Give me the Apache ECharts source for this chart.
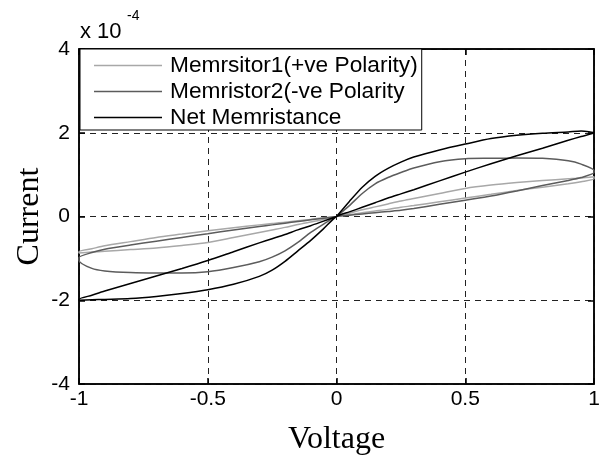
<!DOCTYPE html>
<html>
<head>
<meta charset="utf-8">
<script src="https://cdn.jsdelivr.net/npm/echarts@6/dist/echarts.min.js"></script>
<style>
  html, body { margin: 0; padding: 0; background: #fff; }
  #chart { width: 606px; height: 455px; }
</style>
</head>
<body>
<div id="chart"></div>
<script>
// Voltage magnitudes at which every branch of the I-V loops is sampled (V)
const vSteps = [0, 0.05, 0.1, 0.15, 0.2, 0.25, 0.3, 0.4, 0.5, 0.6, 0.7, 0.8, 0.9, 0.95, 1];

// Currents in units of 1e-4 A.
// posUp / posLow: the two branches for V in [0, 1]
// negFar / negNear: the two branches for V in [-1, 0] (sampled at -vSteps)
const m1PosUp   = [0, 0.08, 0.16, 0.23, 0.30, 0.37, 0.43, 0.55, 0.67, 0.75, 0.81, 0.86, 0.90, 0.92, 0.95];
const m1PosLow  = [0, 0.04, 0.09, 0.13, 0.17, 0.22, 0.26, 0.35, 0.44, 0.53, 0.62, 0.70, 0.78, 0.83, 0.90];
const m1NegFar  = [0, -0.07, -0.13, -0.19, -0.26, -0.32, -0.38, -0.50, -0.62, -0.69, -0.75, -0.79, -0.83, -0.85, -0.87];
const m1NegNear = [0, -0.03, -0.07, -0.10, -0.14, -0.17, -0.20, -0.27, -0.34, -0.42, -0.50, -0.60, -0.70, -0.77, -0.84];

const m2PosUp   = [0, 0.26, 0.55, 0.78, 0.93, 1.05, 1.16, 1.31, 1.38, 1.39, 1.40, 1.39, 1.33, 1.25, 1.10];
const m2PosLow  = [0, 0.03, 0.06, 0.09, 0.12, 0.15, 0.19, 0.29, 0.39, 0.49, 0.61, 0.74, 0.86, 0.93, 1.05];
const m2NegFar  = [0, -0.18, -0.38, -0.62, -0.82, -0.97, -1.08, -1.22, -1.32, -1.35, -1.35, -1.34, -1.30, -1.24, -1.05];
const m2NegNear = [0, -0.04, -0.08, -0.12, -0.16, -0.20, -0.24, -0.32, -0.41, -0.50, -0.59, -0.68, -0.78, -0.86, -0.98];

const netPosUp   = [0, 0.36, 0.70, 0.96, 1.15, 1.30, 1.42, 1.59, 1.73, 1.86, 1.94, 1.99, 2.02, 2.04, 2.00];
const netPosLow  = [0, 0.11, 0.22, 0.33, 0.44, 0.54, 0.64, 0.85, 1.06, 1.26, 1.45, 1.63, 1.82, 1.91, 2.00];
const netNegFar  = [0, -0.29, -0.57, -0.82, -1.07, -1.28, -1.43, -1.62, -1.75, -1.84, -1.91, -1.96, -1.98, -1.99, -2.00];
const netNegNear = [0, -0.11, -0.22, -0.32, -0.43, -0.53, -0.63, -0.84, -1.05, -1.24, -1.42, -1.60, -1.78, -1.88, -1.98];

const seriesNames = ['Memrsitor1(+ve Polarity)', 'Memristor2(-ve Polarity', 'Net Memristance'];
const seriesColors = ['#a8a8a8', '#5c5c5c', '#000000'];

const xTicks = { min: -1, max: 1, step: 0.5 };
const yTicks = { min: -4, max: 4, step: 2 };

// Trace one closed pinched loop: 0 -> +1 -> 0 -> -1 -> 0
function loop(posUp, posLow, negFar, negNear) {
  const pts = [];
  vSteps.forEach((v, i) => pts.push([v, posUp[i]]));
  for (let i = vSteps.length - 1; i >= 0; i--) pts.push([vSteps[i], posLow[i]]);
  vSteps.forEach((v, i) => pts.push([-v, negFar[i]]));
  for (let i = vSteps.length - 1; i >= 0; i--) pts.push([-vSteps[i], negNear[i]]);
  return pts;
}

const loops = [
  loop(m1PosUp, m1PosLow, m1NegFar, m1NegNear),
  loop(m2PosUp, m2PosLow, m2NegFar, m2NegNear),
  loop(netPosUp, netPosLow, netNegFar, netNegNear)
];

const sans = 'Liberation Sans, Arial, Helvetica, sans-serif';
const serif = 'Liberation Serif, Times New Roman, serif';
const axisStroke = { color: '#000', width: 1.5 };
const gridDash = { color: '#222', width: 1, type: [6, 5] };

const chart = echarts.init(document.getElementById('chart'), null, { renderer: 'canvas' });

chart.setOption({
  animation: false,
  backgroundColor: '#fff',
  // exponent of the y-axis scale factor
  title: [
    { text: 'x 10', left: 80, top: 21, padding: 0, textStyle: { fontFamily: sans, fontSize: 22, fontWeight: 'normal', color: '#000' } },
    { text: '-4', left: 127, top: 9, padding: 0, textStyle: { fontFamily: sans, fontSize: 14, fontWeight: 'normal', color: '#000' } }
  ],
  grid: {
    left: 79, right: 12, top: 49, bottom: 71,
    outerBoundsMode: 'none',
    show: true, borderColor: '#000', borderWidth: 1.5, backgroundColor: 'transparent'
  },
  legend: {
    orient: 'vertical',
    left: 80, top: 49,
    padding: [5, 4, 1, 14],
    backgroundColor: '#fff',
    borderColor: '#000',
    borderWidth: 1,
    borderRadius: 0,
    icon: 'rect',
    itemWidth: 68,
    itemHeight: 1.5,
    itemGap: 3,
    textStyle: { fontFamily: sans, fontSize: 22.7, color: '#000', lineHeight: 21, padding: [0, 0, 0, 3] },
    data: seriesNames
  },
  xAxis: [
    {
      type: 'value', position: 'bottom',
      min: xTicks.min, max: xTicks.max, interval: xTicks.step,
      axisLine: { show: true, onZero: false, lineStyle: axisStroke },
      axisTick: { show: true, inside: true, length: 6, lineStyle: axisStroke },
      axisLabel: { fontFamily: sans, fontSize: 21, color: '#000', margin: 5 },
      splitLine: { show: true, lineStyle: gridDash },
      name: 'Voltage', nameLocation: 'middle', nameGap: 40, nameMoveOverlap: false,
      nameTextStyle: { fontFamily: serif, fontSize: 32, color: '#000' }
    },
    {
      type: 'value', position: 'top',
      min: xTicks.min, max: xTicks.max, interval: xTicks.step,
      axisLine: { show: true, onZero: false, lineStyle: axisStroke },
      axisTick: { show: true, inside: true, length: 6, lineStyle: axisStroke },
      axisLabel: { show: false },
      splitLine: { show: false }
    }
  ],
  yAxis: [
    {
      type: 'value', position: 'left',
      min: yTicks.min, max: yTicks.max, interval: yTicks.step,
      axisLine: { show: true, onZero: false, lineStyle: axisStroke },
      axisTick: { show: true, inside: true, length: 6, lineStyle: axisStroke },
      axisLabel: { fontFamily: sans, fontSize: 21, color: '#000', margin: 9 },
      splitLine: { show: true, lineStyle: gridDash },
      name: 'Current', nameLocation: 'middle', nameGap: 33, nameMoveOverlap: false,
      nameTextStyle: { fontFamily: serif, fontSize: 32, color: '#000' }
    },
    {
      type: 'value', position: 'right',
      min: yTicks.min, max: yTicks.max, interval: yTicks.step,
      axisLine: { show: true, onZero: false, lineStyle: axisStroke },
      axisTick: { show: true, inside: true, length: 6, lineStyle: axisStroke },
      axisLabel: { show: false },
      splitLine: { show: false }
    }
  ],
  series: seriesNames.map((name, k) => ({
    name: name,
    type: 'line',
    xAxisIndex: 0,
    yAxisIndex: 0,
    data: loops[k],
    symbol: 'none',
    smooth: 0.25,
    lineStyle: { color: seriesColors[k], width: 1.5 },
    itemStyle: { color: seriesColors[k] },
    z: 2 + k
  }))
});
</script>
</body>
</html>
